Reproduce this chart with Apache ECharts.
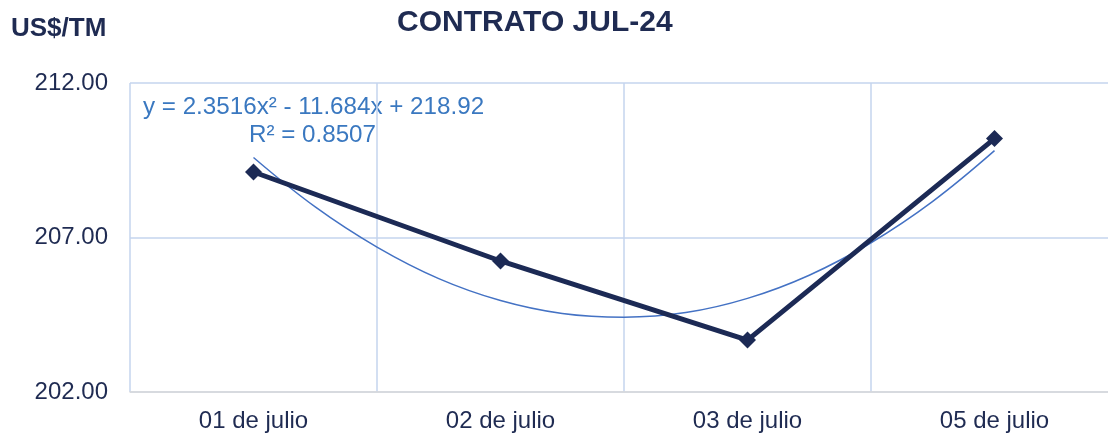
<!DOCTYPE html>
<html>
<head>
<meta charset="utf-8">
<script src="https://cdn.jsdelivr.net/npm/echarts@6/dist/echarts.min.js"></script>
<style>
  html, body { margin: 0; padding: 0; background: #fff; }
  #chart { width: 1108px; height: 438px; }
</style>
</head>
<body>
<div id="chart"></div>
<script>
// data
var dias = ["01 de julio", "02 de julio", "03 de julio", "05 de julio"];
var precios = [209.12, 206.24, 203.68, 210.2];
// polynomial trend curve
var trendX = [1, 1.25, 1.5, 1.75, 2, 2.25, 2.5, 2.75, 3, 3.25, 3.5, 3.75, 4];
var trendY = [209.59, 207.99, 206.69, 205.67, 204.96, 204.54, 204.42, 204.57, 205.03, 205.78, 206.83, 208.17, 209.81];
var yTicks = [202, 207, 212];

var navy = "#1c2a55";
var textNavy = "#1f2b52";
var trendBlue = "#4472c4";
var font = "Liberation Sans, Arial, sans-serif";

var chart = echarts.init(document.getElementById("chart"));

var option = {
  animation: false,
  textStyle: { fontFamily: font },
  // plot runs a little past the right edge of the picture
  grid: { left: 130, width: 988, top: 83, bottom: 46, outerBoundsMode: "none", containLabel: false },
  title: [
    {
      text: "CONTRATO JUL-24",
      left: 392, top: 3,
      textStyle: { fontSize: 30, fontWeight: "bold", color: textNavy, fontFamily: font }
    },
    {
      text: "US$/TM",
      left: 6, top: 11,
      textStyle: { fontSize: 26, fontWeight: "bold", color: textNavy, fontFamily: font }
    }
  ],
  xAxis: [
    {
      type: "category",
      data: dias,
      boundaryGap: true,
      axisLine: { show: true, lineStyle: { color: "#d9d9d9", width: 1.5 } },
      axisTick: { show: false },
      axisLabel: { color: textNavy, fontSize: 24, margin: 17 },
      splitLine: { show: true, lineStyle: { color: "#c5d4ee", width: 1.5 } }
    },
    {
      type: "value",
      min: 0.5, max: 4.5,
      show: false
    }
  ],
  yAxis: {
    type: "value",
    min: yTicks[0], max: yTicks[yTicks.length - 1], interval: 5,
    axisLine: { show: false },
    axisTick: { show: false },
    axisLabel: {
      color: textNavy, fontSize: 24, margin: 22,
      formatter: function (v) { return v.toFixed(2); }
    },
    splitLine: { show: true, lineStyle: { color: "#c5d4ee", width: 1.5 } }
  },
  series: [
    {
      name: "Tendencia",
      type: "line",
      xAxisIndex: 1,
      data: trendX.map(function (x, i) { return [x, trendY[i]]; }),
      smooth: 0.4,
      symbol: "none",
      lineStyle: { color: trendBlue, width: 1.5 },
      z: 2
    },
    {
      name: "Precio",
      type: "line",
      data: precios,
      symbol: "diamond",
      symbolSize: 17,
      lineStyle: { color: navy, width: 5 },
      itemStyle: { color: navy },
      z: 3
    }
  ],
  graphic: [
    {
      type: "text",
      left: 143, top: 95,
      style: {
        text: "y = 2.3516x² - 11.684x + 218.92",
        fill: "#3a78c0",
        font: "24.2px " + font
      }
    },
    {
      type: "text",
      right: 1108 - 376, top: 123,
      style: {
        text: "R² = 0.8507",
        fill: "#3a78c0",
        font: "24.2px " + font
      }
    }
  ]
};

chart.setOption(option);
</script>
</body>
</html>
